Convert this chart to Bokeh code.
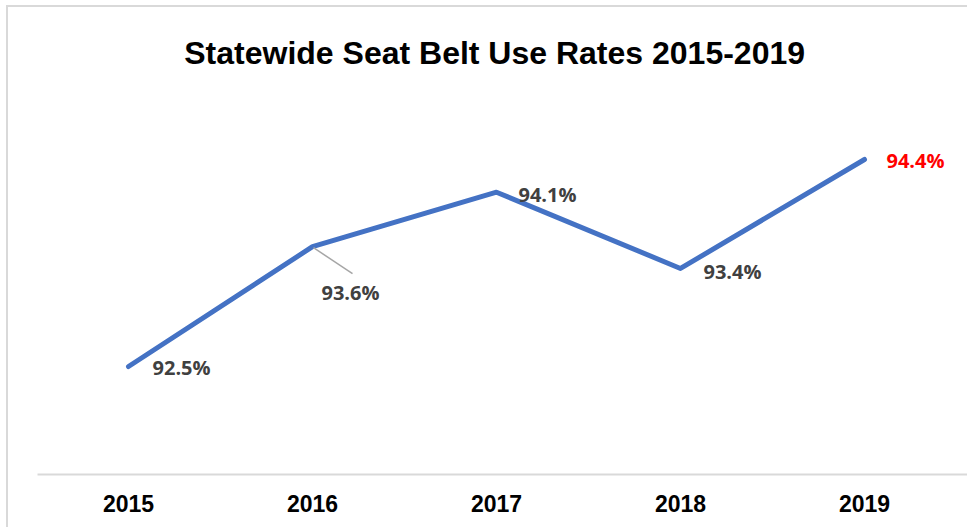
from bokeh.plotting import figure
from bokeh.models import FixedTicker, Label, ColumnDataSource
from bokeh.core.properties import value
from bokeh.embed import file_html
from bokeh.resources import INLINE

# ---- data ----
years = ["2015", "2016", "2017", "2018", "2019"]
rates = [92.5, 93.6, 94.1, 93.4, 94.4]
rate_labels = ["92.5%", "93.6%", "94.1%", "93.4%", "94.4%"]
title_text = "Statewide Seat Belt Use Rates 2015-2019"

# ---- styles ----
label_colors = ["#404040", "#404040", "#404040", "#404040", "#FF0000"]
label_dx = [24, 9, 22, 23, 22]
label_dy = [1, 46, 2, 3, 1]

xs = list(range(len(years)))

p = figure(width=961, height=522, output_backend="svg", toolbar_location=None,
           x_range=(-0.4946, 4.5707), y_range=(91.509, 95.795),
           min_border_left=29, min_border_right=0, min_border_top=0,
           min_border_bottom=55)
p.outline_line_color = None
p.background_fill_color = "white"
p.border_fill_color = "white"
p.xgrid.visible = False
p.ygrid.visible = False
p.yaxis.visible = False

ax = p.xaxis[0]
ax.ticker = FixedTicker(ticks=xs)
ax.major_label_overrides = {i: y for i, y in zip(xs, years)}
ax.major_tick_line_color = None
ax.minor_tick_line_color = None
ax.axis_line_color = "#d9d9d9"
ax.axis_line_width = 2
ax.major_label_text_font = "Liberation Sans"
ax.major_label_text_font_style = "bold"
ax.major_label_text_font_size = "23px"
ax.major_label_text_color = "#000000"
ax.major_label_standoff = 14

# line
p.line(xs, rates, line_color="#4472C4", line_width=5,
       line_cap="round", line_join="round")

# leader line for 2016 label (offset in pixel scale converted to data)
px_per_x = 184.0
px_per_y = 108.95
i = 1
p.segment(x0=[xs[i] + 1 / px_per_x], y0=[rates[i] - 1 / px_per_y],
          x1=[xs[i] + 40 / px_per_x], y1=[rates[i] - 27 / px_per_y],
          line_color="#a6a6a6", line_width=1.5)

src = ColumnDataSource(dict(x=xs, y=rates, t=rate_labels, c=label_colors,
                            dx=label_dx, dy=label_dy))
p.text(x="x", y="y", text="t", source=src, text_color="c",
       x_offset="dx", y_offset="dy",
       text_font=value("Open Sans"), text_font_style="bold",
       text_font_size="20px", text_align="left", text_baseline="middle")

title = Label(x=1.99, y=95.373, text=title_text, text_align="center",
              text_baseline="alphabetic", text_font="Liberation Sans",
              text_font_style="bold", text_font_size="32px",
              text_color="#000000")
p.add_layout(title)

p.styles = {"border-left": "2px solid #d9d9d9", "border-top": "2px solid #d9d9d9",
            "margin-left": "6px", "margin-top": "5px"}

open("out.html", "w").write(file_html(p, INLINE))
